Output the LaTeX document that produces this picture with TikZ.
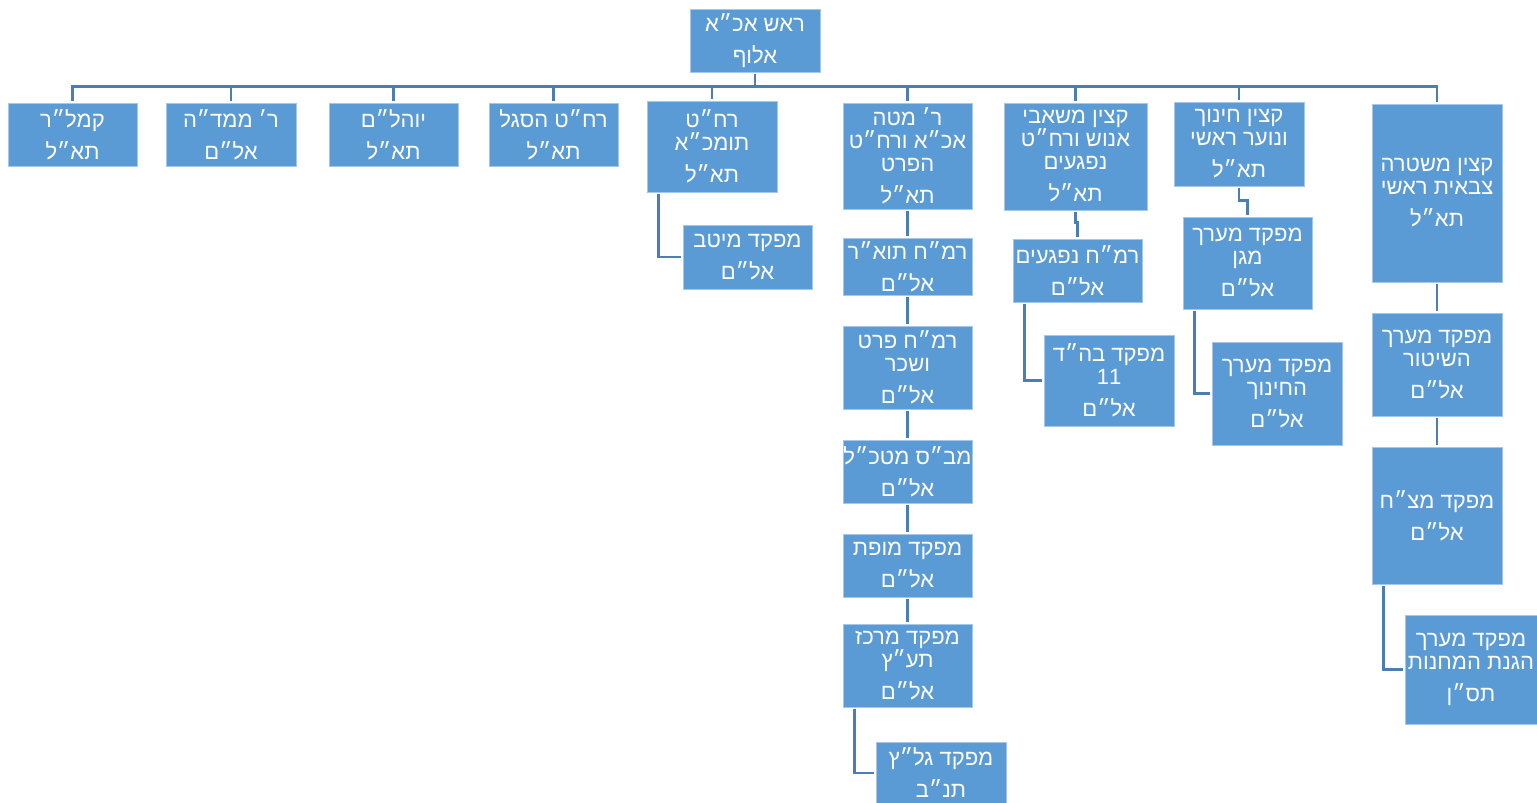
\documentclass[tikz,border=0pt]{standalone}
\usepackage{fontspec}
\usetikzlibrary{calc}
\TeXXeTstate=1
\newfontfamily\hebfont[Script=Hebrew]{Liberation Sans}
\newcommand\hb[1]{\beginR #1\endR}
\definecolor{boxblue}{RGB}{91,155,213}
\definecolor{lineblue}{RGB}{74,126,180}
\definecolor{edgeblue}{RGB}{165,200,234}
\begin{document}
\begin{tikzpicture}[x=1pt,y=-1pt,
  box/.style={rectangle, fill=boxblue, draw=edgeblue, line width=0.8pt, inner sep=0pt,
    text=white, align=center, font=\hebfont\fontsize{22}{23}\selectfont},
  sz/.style 2 args={minimum width=#1pt, minimum height=#2pt},
  conn/.style={draw=lineblue, line width=2.6pt, shorten <=2pt, shorten >=2pt}]
\path[use as bounding box] (0,0) rectangle (1537,803);

% level 0
\node[box, sz={130}{63}] (root) at (755,40.5) {\hb{ראש אכ״א}\\[9pt]\hb{אלוף}};

% level 1
\node[box, sz={129}{63}] (k1) at (72.5,134.5) {\hb{קמל״ר}\\[9pt]\hb{תא״ל}};
\node[box, sz={130}{63}] (k2) at (231,134.5) {\hb{ר׳ ממד״ה}\\[9pt]\hb{אל״ם}};
\node[box, sz={129}{63}] (k3) at (393.5,134.5) {\hb{יוהל״ם}\\[9pt]\hb{תא״ל}};
\node[box, sz={129}{63}] (k4) at (553.5,134.5) {\hb{רח״ט הסגל}\\[9pt]\hb{תא״ל}};
\node[box, sz={130}{91}] (k5) at (712,146.5) {\hb{רח״ט}\\\hb{תומכ״א}\\[9pt]\hb{תא״ל}};
\node[box, sz={129}{106}] (k6) at (907.5,156) {\hb{ר׳ מטה}\\\hb{אכ״א ורח״ט}\\\hb{הפרט}\\[9pt]\hb{תא״ל}};
\node[box, sz={143}{107}] (k7) at (1075.5,156.5) {\hb{קצין משאבי}\\\hb{אנוש ורח״ט}\\\hb{נפגעים}\\[9pt]\hb{תא״ל}};
\node[box, sz={130}{84}] (k8) at (1239,144) {\hb{קצין חינוך}\\\hb{ונוער ראשי}\\[9pt]\hb{תא״ל}};
\node[box, sz={130}{178}] (k9) at (1437,193) {\hb{קצין משטרה}\\\hb{צבאית ראשי}\\[9pt]\hb{תא״ל}};

% under k5
\node[box, sz={129}{64}] (m5) at (747.5,257) {\hb{מפקד מיטב}\\[9pt]\hb{אל״ם}};

% under k6
\node[box, sz={129}{57}] (c1) at (907.5,266.5) {\hb{רמ״ח תוא״ר}\\[9pt]\hb{אל״ם}};
\node[box, sz={129}{83}] (c2) at (907.5,367.5) {\hb{רמ״ח פרט}\\\hb{ושכר}\\[9pt]\hb{אל״ם}};
\node[box, sz={129}{63}] (c3) at (907.5,471.5) {\hb{מב״ס מטכ״ל}\\[9pt]\hb{אל״ם}};
\node[box, sz={129}{63}] (c4) at (907.5,565.5) {\hb{מפקד מופת}\\[9pt]\hb{אל״ם}};
\node[box, sz={129}{83}] (c5) at (907.5,665.5) {\hb{מפקד מרכז}\\\hb{תע״ץ}\\[9pt]\hb{אל״ם}};
\node[box, sz={130}{62}] (c6) at (941,773) {\hb{מפקד גל״ץ}\\[9pt]\hb{תנ״ב}};

% under k7
\node[box, sz={129}{63}] (n1) at (1077.5,270.5) {\hb{רמ״ח נפגעים}\\[9pt]\hb{אל״ם}};
\node[box, sz={130}{91}] (n2) at (1109,380.5) {\hb{מפקד בה״ד}\\11\\[9pt]\hb{אל״ם}};

% under k8
\node[box, sz={129}{92}] (e1) at (1247.5,263) {\hb{מפקד מערך}\\\hb{מגן}\\[9pt]\hb{אל״ם}};
\node[box, sz={130}{103}] (e2) at (1277,393.5) {\hb{מפקד מערך}\\\hb{החינוך}\\[9pt]\hb{אל״ם}};

% under k9
\node[box, sz={130}{103}] (p1) at (1437,364.5) {\hb{מפקד מערך}\\\hb{השיטור}\\[9pt]\hb{אל״ם}};
\node[box, sz={130}{137}] (p2) at (1437,515.5) {\hb{מפקד מצ״ח}\\[9pt]\hb{אל״ם}};
\node[box, sz={132}{109}] (p3) at (1471,669.5) {\hb{מפקד מערך}\\\hb{הגנת המחנות}\\[9pt]\hb{תס״ן}};

% root connectors
\foreach \c in {k1,k2,k3,k4,k5,k6,k7,k8,k9}
  \draw[conn] (root.south) -- ($(root.south)+(0,14)$) -| (\c.north);

% side branches
\draw[conn] ($(k5.south west)+(12,0)$) |- (m5.west);
\draw[conn] ($(c5.south west)+(12,0)$) |- (c6.west);
\draw[conn] ($(n1.south west)+(12,0)$) |- (n2.west);
\draw[conn] ($(e1.south west)+(12,0)$) |- (e2.west);
\draw[conn] ($(p2.south west)+(12,0)$) |- (p3.west);

% chains
\draw[conn] (k6) -- (c1);
\draw[conn] (c1) -- (c2);
\draw[conn] (c2) -- (c3);
\draw[conn] (c3) -- (c4);
\draw[conn] (c4) -- (c5);
\draw[conn] (k9) -- (p1);
\draw[conn] (p1) -- (p2);
\draw[conn] (k7.south) -- ++(0,12) -| (n1.north);
\draw[conn] (k8.south) -- ++(0,14) -| (e1.north);
\end{tikzpicture}
\end{document}
